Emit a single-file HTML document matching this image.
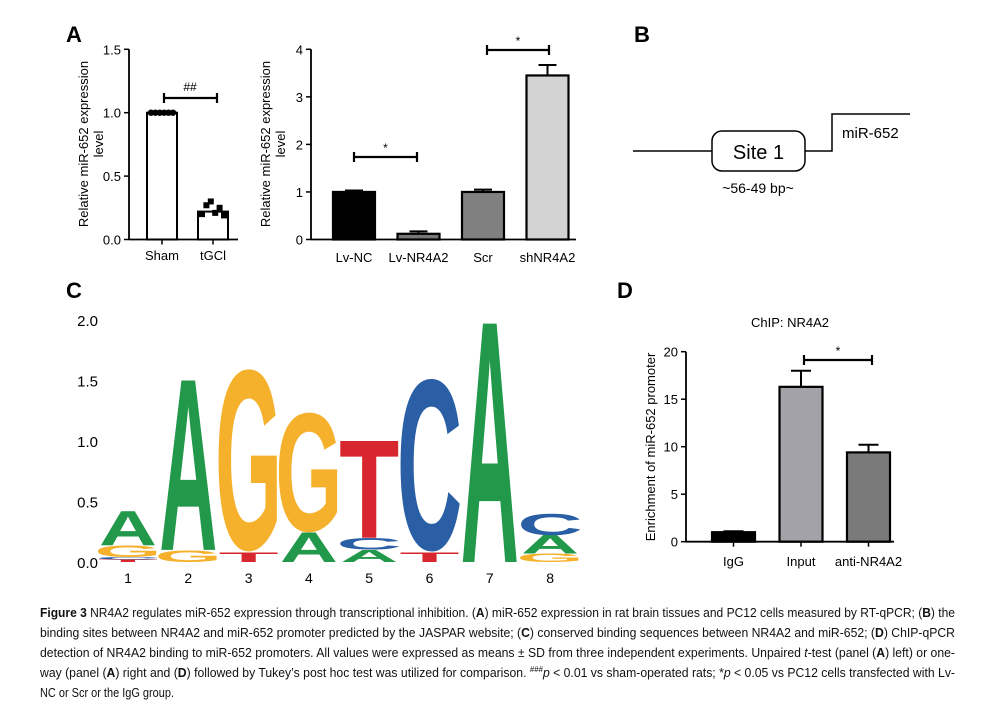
<!DOCTYPE html>
<html><head><meta charset="utf-8">
<style>
html,body{margin:0;padding:0;background:#fff;}
svg{display:block;font-family:"Liberation Sans",sans-serif;}
</style></head>
<body>
<svg id="fig" width="995" height="712" viewBox="0 0 995 712" xmlns="http://www.w3.org/2000/svg">
  <g id="static">
    <text x="66" y="42" font-size="22" font-weight="bold">A</text>
    <text x="634" y="42" font-size="22" font-weight="bold">B</text>
    <text x="66" y="298" font-size="22" font-weight="bold">C</text>
    <text x="617" y="298" font-size="22" font-weight="bold">D</text>

    <g>
      <line x1="633" y1="151" x2="712" y2="151" stroke="#000" stroke-width="1.5"/>
      <rect x="712" y="131" width="93" height="40" rx="10" fill="#fff" stroke="#000" stroke-width="1.5"/>
      <text x="758.5" y="159" font-size="20" text-anchor="middle">Site 1</text>
      <polyline points="805,151 832,151 832,114 910,114" fill="none" stroke="#000" stroke-width="1.5"/>
      <text x="842" y="138" font-size="15">miR-652</text>
      <text x="758" y="193" font-size="14" text-anchor="middle">~56-49 bp~</text>
    </g>

    <g font-size="12.5" fill="#111">
      <text x="40" y="617" textLength="915" lengthAdjust="spacingAndGlyphs"><tspan font-weight="bold">Figure 3</tspan> NR4A2 regulates miR-652 expression through transcriptional inhibition. (<tspan font-weight="bold">A</tspan>) miR-652 expression in rat brain tissues and PC12 cells measured by RT-qPCR; (<tspan font-weight="bold">B</tspan>) the</text>
      <text x="40" y="637" textLength="915" lengthAdjust="spacingAndGlyphs">binding sites between NR4A2 and miR-652 promoter predicted by the JASPAR website; (<tspan font-weight="bold">C</tspan>) conserved binding sequences between NR4A2 and miR-652; (<tspan font-weight="bold">D</tspan>) ChIP-qPCR</text>
      <text x="40" y="657" textLength="915" lengthAdjust="spacingAndGlyphs">detection of NR4A2 binding to miR-652 promoters. All values were expressed as means ± SD from three independent experiments. Unpaired <tspan font-style="italic">t</tspan>-test (panel (<tspan font-weight="bold">A</tspan>) left) or one-</text>
      <text x="40" y="677" textLength="915" lengthAdjust="spacingAndGlyphs">way (panel (<tspan font-weight="bold">A</tspan>) right and (<tspan font-weight="bold">D</tspan>) followed by Tukey’s post hoc test was utilized for comparison. <tspan font-size="8" dy="-5">###</tspan><tspan dy="5" font-style="italic">p</tspan> &lt; 0.01 vs sham-operated rats; *<tspan font-style="italic">p</tspan> &lt; 0.05 vs PC12 cells transfected with Lv-</text>
      <text x="40" y="697" textLength="134" lengthAdjust="spacingAndGlyphs">NC or Scr or the IgG group.</text>
    </g>
  </g>
  <g id="dyn"></g>
</svg>
<script>
// ---------- Data ----------
const a1Categories = ["Sham", "tGCl"];
const a1Values = [1.0, 0.22];
const a1Points = [[1.0,1.0,1.0,1.0,1.0,1.0],[0.2,0.27,0.3,0.21,0.25,0.19]];
const a1Ticks = [0, 0.5, 1.0, 1.5];
const a1TickLabels = ["0.0", "0.5", "1.0", "1.5"];

const a2Categories = ["Lv-NC", "Lv-NR4A2", "Scr", "shNR4A2"];
const a2Values = [1.0, 0.12, 1.0, 3.45];
const a2Errors = [0.03, 0.05, 0.05, 0.22];
const a2Colors = ["#000000", "#777777", "#808080", "#d3d3d3"];
const a2Ticks = [0, 1, 2, 3, 4];

const dCategories = ["IgG", "Input", "anti-NR4A2"];
const dValues = [1.0, 16.3, 9.4];
const dErrors = [0.1, 1.7, 0.8];
const dColors = ["#000000", "#a2a2a8", "#7a7a7a"];
const dTicks = [0, 5, 10, 15, 20];

const logoPositions = ["1","2","3","4","5","6","7","8"];
const logoStacks = [
  [["T",0.02],["C",0.02],["G",0.1],["A",0.28]],
  [["G",0.1],["A",1.4]],
  [["T",0.08],["G",1.52]],
  [["A",0.24],["G",1.0]],
  [["A",0.1],["C",0.1],["T",0.8]],
  [["T",0.08],["C",1.44]],
  [["A",1.97]],
  [["G",0.07],["A",0.15],["C",0.18]]
];
const logoTicks = [0, 0.5, 1.0, 1.5, 2.0];
const logoTickLabels = ["0.0", "0.5", "1.0", "1.5", "2.0"];

// ---------- Helpers ----------
const NS = "http://www.w3.org/2000/svg";
const root = document.getElementById("dyn");
function mk(tag, attrs, parent) {
  const e = document.createElementNS(NS, tag);
  for (const k in attrs) e.setAttribute(k, attrs[k]);
  (parent || root).appendChild(e);
  return e;
}
function txt(x, y, s, size, anchor, parent) {
  const t = mk("text", {x: x, y: y, "font-size": size, "text-anchor": anchor || "middle"}, parent);
  t.textContent = s;
  return t;
}
function linScale(d0, d1, r0, r1) { return v => r0 + (v - d0) / (d1 - d0) * (r1 - r0); }

// ---------- Panel A left ----------
(function () {
  const g = mk("g", {});
  
  
  const y = linScale(0, 1.5, 239.5, 49.3);
  const x0 = 129, xEnd = 238, bw = 30;
  const cx = i => 162 + i * 51;
  a1Categories.forEach((c, i) => {
    const r = mk("rect", {x: cx(i) - bw / 2, y: y(a1Values[i]), width: bw, height: y(0) - y(a1Values[i]), fill: "#fff", stroke: "#000", "stroke-width": 2}, g);
    
    
    a1Points[i].forEach((v, j) => {
      const px = cx(i) - 11 + j * 4.4;
      let p;
      if (i === 0) p = mk("circle", {cx: px, cy: y(v), r: 3.2, fill: "#000"}, g);
      else p = mk("rect", {x: px - 3, y: y(v) - 3, width: 6, height: 6, fill: "#000"}, g);
      
      
    });
    mk("line", {x1: cx(i), y1: y(0), x2: cx(i), y2: y(0) + 5, stroke: "#000", "stroke-width": 1.5}, g);
    const l = txt(cx(i), 260, c, 13, "middle", g);
    
    
  });
  mk("line", {x1: x0, y1: y(0), x2: xEnd, y2: y(0), stroke: "#000", "stroke-width": 1.8}, g);
  mk("line", {x1: x0, y1: y(0), x2: x0, y2: y(1.5), stroke: "#000", "stroke-width": 1.8}, g);
  a1Ticks.forEach((t, i) => {
    mk("line", {x1: x0 - 5, y1: y(t), x2: x0, y2: y(t), stroke: "#000", "stroke-width": 1.5}, g);
    const l = txt(x0 - 8, y(t) + 5, a1TickLabels[i], 13, "end", g);
    
    
  });
  const yt = mk("text", {transform: "translate(88,144) rotate(-90)", "font-size": 13, "text-anchor": "middle"}, g);
  yt.textContent = "Relative miR-652 expression";
  
  
  const yt2 = mk("text", {transform: "translate(103,144) rotate(-90)", "font-size": 13, "text-anchor": "middle"}, g);
  yt2.textContent = "level";
  
  
  const s = mk("path", {d: "M164,98H217M164,93V103M217,93V103", stroke: "#000", "stroke-width": 2.2, fill: "none"}, g);
  
  
  const st = txt(190, 91, "##", 12, "middle", g);
  
  
})();

// ---------- Panel A right ----------
(function () {
  const g = mk("g", {});
  
  
  const y = linScale(0, 4, 239.5, 49.3);
  const x0 = 311, xEnd = 576, bw = 42;
  const cx = i => 354 + i * 64.5;
  a2Categories.forEach((c, i) => {
    const e = mk("path", {d: `M${cx(i)},${y(a2Values[i])}V${y(a2Values[i] + a2Errors[i])}M${cx(i) - 9},${y(a2Values[i] + a2Errors[i])}H${cx(i) + 9}`, stroke: "#000", "stroke-width": 2, fill: "none"}, g);
    
    
    const r = mk("rect", {x: cx(i) - bw / 2, y: y(a2Values[i]), width: bw, height: y(0) - y(a2Values[i]), fill: a2Colors[i], stroke: "#000", "stroke-width": 2.2}, g);
    
    
    const l = txt(cx(i), 262, c, 13, "middle", g);
    
    
  });
  mk("line", {x1: x0, y1: y(0), x2: xEnd, y2: y(0), stroke: "#000", "stroke-width": 1.8}, g);
  mk("line", {x1: x0, y1: y(0), x2: x0, y2: y(4), stroke: "#000", "stroke-width": 1.8}, g);
  a2Ticks.forEach(t => {
    mk("line", {x1: x0 - 5, y1: y(t), x2: x0, y2: y(t), stroke: "#000", "stroke-width": 1.5}, g);
    const l = txt(x0 - 8, y(t) + 5, String(t), 13, "end", g);
    
    
  });
  const yt = mk("text", {transform: "translate(270,144) rotate(-90)", "font-size": 13, "text-anchor": "middle"}, g);
  yt.textContent = "Relative miR-652 expression";
  
  
  const yt2 = mk("text", {transform: "translate(285,144) rotate(-90)", "font-size": 13, "text-anchor": "middle"}, g);
  yt2.textContent = "level";
  
  
  [[354, 417, 157], [487, 549, 50]].forEach(b => {
    const s = mk("path", {d: `M${b[0]},${b[2]}H${b[1]}M${b[0]},${b[2] - 5}V${b[2] + 5}M${b[1]},${b[2] - 5}V${b[2] + 5}`, stroke: "#000", "stroke-width": 2.2, fill: "none"}, g);
    
    
    const st = txt((b[0] + b[1]) / 2, b[2] - 5, "*", 12, "middle", g);
    
    
  });
})();

// ---------- Panel C sequence logo ----------
(function () {
  const g = mk("g", {});
  
  
  const y = linScale(0, 2, 562, 320);
  const cx = i => 128 + i * 60.3;
  const colW = 57;
  const colors = {A: "#21984a", C: "#2a5fa5", G: "#f6b12c", T: "#d7262e"};
  const inkW = {A: 71, C: 63, G: 66, T: 58};
  const inkH = {A: 68.8, C: 71.5, G: 71.5, T: 68.8};
  logoTicks.forEach((t, i) => {
    const l = txt(98, y(t) + 6, logoTickLabels[i], 15, "end", g);
    
    
  });
  logoStacks.forEach((stack, i) => {
    let base = 0;
    stack.forEach(([L, h]) => {
      const hp = y(base) - y(base + h);
      const sx = colW / inkW[L], sy = hp / inkH[L];
      const t = mk("text", {transform: `translate(${cx(i)},${y(base) - (L === "C" || L === "G" ? 1.3 * sy : 0)}) scale(${sx},${sy})`, "font-size": 100, "font-weight": "bold", "text-anchor": "middle", fill: colors[L]}, g);
      t.textContent = L;
      
      
      base += h;
    });
    const l = txt(cx(i), 583, logoPositions[i], 14, "middle", g);
    
    
  });
})();

// ---------- Panel D ----------
(function () {
  const g = mk("g", {});
  
  
  const y = linScale(0, 20, 541.7, 351.7);
  const x0 = 686, xEnd = 894, bw = 43;
  const cx = i => 733.5 + i * 67.5;
  dCategories.forEach((c, i) => {
    const e = mk("path", {d: `M${cx(i)},${y(dValues[i])}V${y(dValues[i] + dErrors[i])}M${cx(i) - 10},${y(dValues[i] + dErrors[i])}H${cx(i) + 10}`, stroke: "#000", "stroke-width": 2, fill: "none"}, g);
    
    
    const r = mk("rect", {x: cx(i) - bw / 2, y: y(dValues[i]), width: bw, height: y(0) - y(dValues[i]), fill: dColors[i], stroke: "#000", "stroke-width": 2.2}, g);
    
    
    mk("line", {x1: cx(i), y1: y(0), x2: cx(i), y2: y(0) + 5, stroke: "#000", "stroke-width": 1.5}, g);
    const l = txt(cx(i), 566, c, 13, "middle", g);
    
    
  });
  mk("line", {x1: x0, y1: y(0), x2: xEnd, y2: y(0), stroke: "#000", "stroke-width": 1.8}, g);
  mk("line", {x1: x0, y1: y(0), x2: x0, y2: y(20), stroke: "#000", "stroke-width": 1.8}, g);
  dTicks.forEach(t => {
    mk("line", {x1: x0 - 5, y1: y(t), x2: x0, y2: y(t), stroke: "#000", "stroke-width": 1.5}, g);
    const l = txt(x0 - 8, y(t) + 5, String(t), 13, "end", g);
    
    
  });
  const yt = mk("text", {transform: "translate(655,447) rotate(-90)", "font-size": 13, "text-anchor": "middle"}, g);
  yt.textContent = "Enrichment of miR-652 promoter";
  
  
  const tt = txt(790, 327, "ChIP: NR4A2", 13, "middle", g);
  
  
  const s = mk("path", {d: "M804,360H872M804,355V365M872,355V365", stroke: "#000", "stroke-width": 2.2, fill: "none"}, g);
  
  
  const st = txt(838, 355, "*", 12, "middle", g);
  
  
})();
</script>
</body></html>
